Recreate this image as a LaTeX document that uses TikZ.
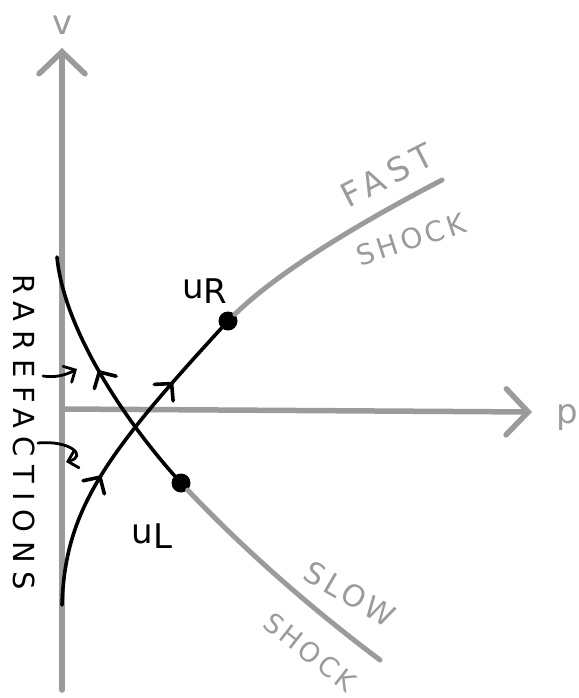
\documentclass[tikz,border=0pt]{standalone}
\usepackage{fontspec}
\setmainfont{DejaVu Sans}
\usetikzlibrary{arrows.meta,decorations.markings}
\definecolor{sketchgray}{RGB}{155,155,155}
\newcommand{\statelab}[1]{u\raisebox{-5pt}{#1}}

\begin{document}
\begin{tikzpicture}[
  x=1pt, y=-1pt,
  axis/.style={draw=sketchgray, line width=5.5pt, line cap=round,
    -{Straight Barb[length=22pt,width=46pt,line cap=round]}},
  shock/.style={draw=sketchgray, line width=5pt, line cap=round},
  wave/.style={draw=black, line width=3.6pt, line cap=round},
  midarr/.style={postaction={decorate, decoration={markings,
    mark=at position #1 with {\arrow{Straight Barb[length=12pt,width=25pt,line cap=round]}}}}},
  pointer/.style={draw=black, line width=2.8pt, line cap=round,
    -{Straight Barb[length=9pt,width=18pt,line cap=round]}},
  state/.style={circle, fill=black, inner sep=0pt, minimum size=19pt},
  glabel/.style={text=sketchgray, inner sep=0pt},
  blabel/.style={text=black, inner sep=0pt}
]
  \useasboundingbox (0,0) rectangle (578,698);

  \coordinate (vbot) at (62,690);
  \coordinate (vtop) at (62,48);
  \coordinate (orig) at (62,409);
  \coordinate (pend) at (532,412);
  \node[glabel, font=\fontsize{34}{34}\selectfont] (vlab) at (63,25) {v};
  \node[glabel, font=\fontsize{34}{34}\selectfont] (plab) at (567,418) {p};
  \draw[axis] (vbot) -- (vtop);
  \draw[axis] (orig) -- (pend);

  \node[state] (uR) at (228,321) {};
  \node[state] (uL) at (181,483) {};
  \node[blabel, font=\fontsize{34}{34}\selectfont] (uRlab) at (205,291) {\statelab{R}};
  \node[blabel, font=\fontsize{34}{34}\selectfont] (uLlab) at (152,536) {\statelab{L}};

  \coordinate (fastend) at (442,180);
  \coordinate (slowend) at (380,660);
  \draw[shock] (uR) .. controls (275,275) and (350,228) .. (fastend);
  \draw[shock] (uL) .. controls (235,540) and (300,600) .. (slowend);
  \node[glabel, rotate=27, font=\fontsize{33}{33}\selectfont\addfontfeature{LetterSpace=20}] (fastlab) at (387,175) {FAST};
  \node[glabel, rotate=18, font=\fontsize{28}{28}\selectfont\addfontfeature{LetterSpace=12}] (fshocklab) at (411,239) {SHOCK};
  \node[glabel, rotate=-30, font=\fontsize{30}{30}\selectfont\addfontfeature{LetterSpace=12}] (slowlab) at (350,594) {SLOW};
  \node[glabel, rotate=-38, font=\fontsize{27}{27}\selectfont\addfontfeature{LetterSpace=12}] (sshocklab) at (310,652) {SHOCK};

  \coordinate (raretop) at (57,257);
  \coordinate (rarebot) at (62,605);
  \draw[wave, midarr=0.52] (uL) .. controls (125,420) and (64,330) .. (raretop);
  \draw[wave, midarr=0.42, midarr=0.78] (rarebot) .. controls (65,510) and (105,455) .. (uR);

  \node[blabel, rotate=-90, font=\fontsize{29}{29}\selectfont\addfontfeature{LetterSpace=30}] (rarelab) at (24,432) {RAREFACTIONS};
  \coordinate (ptr1a) at (43,376);
  \coordinate (ptr1b) at (77,369);
  \coordinate (ptr2a) at (38,443);
  \coordinate (ptr2b) at (66,462);
  \draw[pointer] (ptr1a) .. controls (55,378) and (66,375) .. (ptr1b);
  \draw[pointer] (ptr2a) .. controls (70,440) and (88,456) .. (ptr2b);
\end{tikzpicture}
\end{document}
